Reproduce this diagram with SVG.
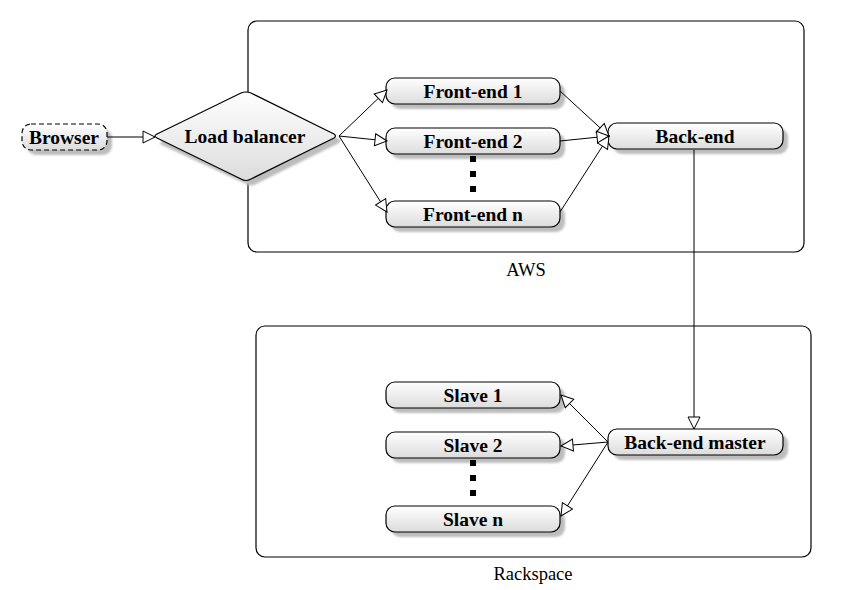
<svg xmlns="http://www.w3.org/2000/svg" width="846" height="590" viewBox="0 0 846 590">
<defs>
<linearGradient id="g" x1="0" y1="0" x2="0" y2="1">
<stop offset="0" stop-color="#ffffff"/>
<stop offset="1" stop-color="#dcdcdc"/>
</linearGradient>
<filter id="blur" x="-10%" y="-20%" width="120%" height="140%"><feGaussianBlur stdDeviation="0.8"/></filter>
<marker id="tri" markerUnits="userSpaceOnUse" markerWidth="14" markerHeight="14" viewBox="0 0 14 14" refX="13" refY="7" orient="auto">
<path d="M1,1 L13,7 L1,13 Z" fill="#fff" stroke="#000" stroke-width="1"/>
</marker>
<style>
.box{fill:none;stroke:#000;stroke-width:1.2}
.node{fill:url(#g);stroke:#000;stroke-width:1.2}
.sh{fill:#bdbdbd;filter:url(#blur)}
.lbl{font-family:"Liberation Serif","Times New Roman",serif;font-weight:bold;font-size:19.5px;text-anchor:middle;fill:#000}
.grp{font-family:"Liberation Serif","Times New Roman",serif;font-size:18.5px;text-anchor:middle;fill:#000}
.c{fill:none;stroke:#000;stroke-width:1;marker-end:url(#tri)}
.dot{fill:#000}
</style>
</defs>
<rect width="846" height="590" fill="#fff"/>
<g id="aws">
<rect class="box" x="248" y="21" width="556" height="231" rx="9"/>
<text class="grp" x="526" y="276">AWS</text>
</g>
<g id="rackspace">
<rect class="box" x="256" y="326" width="555" height="231" rx="9"/>
<text class="grp" x="533" y="580">Rackspace</text>
</g>
<g id="browser">
<rect class="sh" x="27" y="129" width="85" height="26" rx="9"/>
<rect class="node" x="22" y="124" width="85" height="26" rx="9" stroke-dasharray="5,3"/>
<text class="lbl" x="64" y="144">Browser</text>
</g>
<g id="loadbalancer">
<path class="sh" d="M162,141 L246,98 Q251,96 256,98 L339,139 Q342,141 339,143 L256,184 Q251,187 246,184 L162,145 Q158,143 162,141 Z"/>
<path class="node" d="M157,134 L241,93 Q246,91 251,93 L334,134 Q337,136 334,138 L251,179 Q246,182 241,179 L157,138 Q153,136 157,134 Z"/>
<text class="lbl" x="245" y="143">Load balancer</text>
</g>
<g id="frontend1">
<rect class="sh" x="391" y="83" width="174" height="26" rx="9"/>
<rect class="node" x="386" y="78" width="174" height="26" rx="9"/>
<text class="lbl" x="473" y="98">Front-end 1</text>
</g>
<g id="frontend2">
<rect class="sh" x="391" y="133" width="174" height="26" rx="9"/>
<rect class="node" x="386" y="128" width="174" height="26" rx="9"/>
<text class="lbl" x="473" y="148">Front-end 2</text>
</g>
<g id="frontendn">
<rect class="sh" x="391" y="206" width="174" height="26" rx="9"/>
<rect class="node" x="386" y="201" width="174" height="26" rx="9"/>
<text class="lbl" x="473" y="221">Front-end n</text>
</g>
<g id="frontdots">
<rect class="dot" x="470" y="156" width="6" height="6"/>
<rect class="dot" x="470" y="171" width="6" height="6"/>
<rect class="dot" x="470" y="186" width="6" height="6"/>
</g>
<g id="backend">
<rect class="sh" x="613" y="128" width="175" height="26" rx="9"/>
<rect class="node" x="608" y="123" width="175" height="26" rx="9"/>
<text class="lbl" x="695" y="143">Back-end</text>
</g>
<g id="backendmaster">
<rect class="sh" x="613" y="434" width="175" height="26" rx="9"/>
<rect class="node" x="608" y="429" width="175" height="26" rx="9"/>
<text class="lbl" x="695" y="449">Back-end master</text>
</g>
<g id="slave1">
<rect class="sh" x="391" y="387" width="174" height="26" rx="9"/>
<rect class="node" x="386" y="382" width="174" height="26" rx="9"/>
<text class="lbl" x="473" y="402">Slave 1</text>
</g>
<g id="slave2">
<rect class="sh" x="391" y="437" width="174" height="26" rx="9"/>
<rect class="node" x="386" y="432" width="174" height="26" rx="9"/>
<text class="lbl" x="473" y="452">Slave 2</text>
</g>
<g id="slaven">
<rect class="sh" x="391" y="511" width="174" height="26" rx="9"/>
<rect class="node" x="386" y="506" width="174" height="26" rx="9"/>
<text class="lbl" x="473" y="526">Slave n</text>
</g>
<g id="slavedots">
<rect class="dot" x="470" y="460" width="6" height="6"/>
<rect class="dot" x="470" y="475" width="6" height="6"/>
<rect class="dot" x="470" y="490" width="6" height="6"/>
</g>
<g id="connectors">
<path class="c" d="M107,137 L155,137"/>
<path class="c" d="M339,136 L387,90"/>
<path class="c" d="M339,136 L387,141"/>
<path class="c" d="M339,136 L387,212"/>
<path class="c" d="M560,91 L609,136"/>
<path class="c" d="M560,141 L609,136"/>
<path class="c" d="M560,212 L609,136"/>
<path class="c" d="M694,150 L694,429"/>
<path class="c" d="M608,442 L561,395"/>
<path class="c" d="M608,442 L561,446"/>
<path class="c" d="M608,442 L561,516"/>
</g>
</svg>
